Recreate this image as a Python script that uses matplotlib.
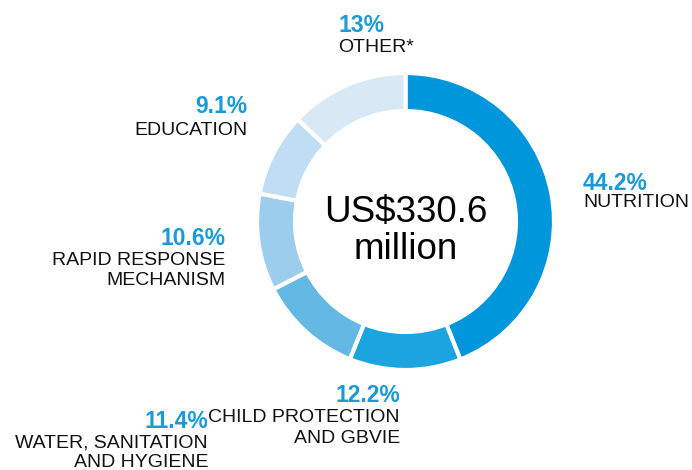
import matplotlib
matplotlib.use("Agg")
import matplotlib.pyplot as plt

# Funding breakdown by sector
sectors = ["NUTRITION", "CHILD PROTECTION\nAND GBVIE", "WATER, SANITATION\nAND HYGIENE",
           "RAPID RESPONSE\nMECHANISM", "EDUCATION", "OTHER*"]
shares = [44.2, 12.2, 11.4, 10.6, 9.1, 13]
pct_labels = ["44.2%", "12.2%", "11.4%", "10.6%", "9.1%", "13%"]
colors = ["#0096db", "#1ca4e0", "#63b8e4", "#9dcdec", "#bfddf3", "#d8e9f5"]
total_label = ["US$330.6", "million"]

plt.rcParams["font.family"] = ["Liberation Sans", "DejaVu Sans"]

W, H = 692, 470
fig = plt.figure(figsize=(W / 100, H / 100), dpi=100)
ax = fig.add_axes([0, 0, 1, 1])

cx, cy, r_out = 405.5, H - 221.5, 148.5
ax.pie(shares, colors=colors, startangle=90, counterclock=False,
       center=(cx, cy), radius=r_out, frame=True,
       wedgeprops=dict(width=38, edgecolor="white", linewidth=3))
ax.set_xlim(0, W)
ax.set_ylim(0, H)
ax.set_aspect("equal")
ax.axis("off")

blue = "#1a9ad8"
pct_fs, lab_fs = 16.5, 14


def label(x, y_pct, y_lines, pct, name, ha):
    ax.text(x, H - y_pct, pct, ha=ha, va="baseline", fontsize=pct_fs,
            fontweight="bold", color=blue)
    for yy, line in zip(y_lines, name.split("\n")):
        ax.text(x, H - yy, line, ha=ha, va="baseline", fontsize=lab_fs,
                color="#111111")


label(583, 190, [207], pct_labels[0], sectors[0], "left")
label(400, 402, [422, 443], pct_labels[1], sectors[1], "right")
label(208, 428, [448, 467], pct_labels[2], sectors[2], "right")
label(225, 245, [265, 285], pct_labels[3], sectors[3], "right")
label(247, 113, [135], pct_labels[4], sectors[4], "right")
label(338, 32, [52], pct_labels[5], sectors[5], "left")

ax.text(cx, H - 222, total_label[0], ha="center", va="baseline",
        fontsize=26.5, color="black")
ax.text(cx, H - 259, total_label[1], ha="center", va="baseline",
        fontsize=26.5, color="black")

fig.savefig("out.png", dpi=100)
